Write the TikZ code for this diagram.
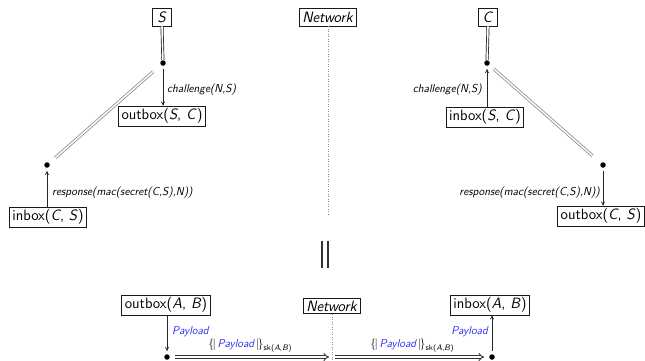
\documentclass[tikz,border=0pt]{standalone}
\usepackage{fontspec}
\usetikzlibrary{arrows.meta}
\definecolor{pay}{RGB}{50,50,245}
\tikzset{
  every node/.style={font=\sffamily},
  box/.style={draw=black!90, line width=0.8pt, inner xsep=3pt, inner ysep=2.5pt, font=\sffamily\fontsize{15}{17}\selectfont},
  sbox/.style={box, minimum width=19pt, minimum height=18pt, inner sep=0pt},
  dotn/.style={circle, fill=black, inner sep=0pt, minimum size=5.5pt},
  lbl/.style={font=\sffamily\itshape\fontsize{11.5}{13}\selectfont, inner sep=1pt},
  arr/.style={draw=black!85, line width=0.7pt, -{To[length=4pt,width=4pt]}},
  dbl/.style={draw=black!90, double=white, double distance=1.6pt, line width=0.7pt},
  gdbl/.style={draw=black!45, double=white, double distance=1.5pt, line width=0.8pt},
  bdbl/.style={draw=black!80, double=white, double distance=1.8pt, line width=0.9pt, -{Implies}},
  net/.style={draw=black!45, dotted, line width=0.5pt},
}
\begin{document}
\begin{tikzpicture}[x=1pt,y=-1pt]
\useasboundingbox (0,0) rectangle (645,360);
% top part
\node[sbox] (S) at (162,17) {\textit{S}};
\node[box, minimum height=18pt, inner ysep=0pt] (N1) at (328,17) {\textit{Network}};
\node[sbox] (C) at (488,17) {\textit{C}};
\node[dotn] (sd) at (163,63) {};
\node[dotn] (ld) at (47,165) {};
\node[dotn] (cd) at (487,63) {};
\node[dotn] (rd) at (603,165) {};
\node[box] (outSC) at (162,116) {outbox(\textit{S}, \textit{C})};
\node[box] (inCS) at (48,217) {inbox(\textit{C}, \textit{S})};
\node[box] (inSC) at (485,117) {inbox(\textit{S}, \textit{C})};
\node[box] (outCS) at (601,216) {outbox(\textit{C}, \textit{S})};
\coordinate (n1end) at (328,214);
\draw[net] (N1.south) -- (n1end);

\draw[dbl] (S.south) -- (sd);
\draw[dbl] (C.south) -- (cd);
\draw[gdbl, shorten <=10pt, shorten >=8pt] (sd) -- (ld);
\draw[gdbl, shorten <=6pt, shorten >=11pt] (cd) -- (rd);

\draw[arr, shorten <=3pt] (sd) -- (sd |- outSC.north);
\draw[arr, shorten >=3pt] (inCS.north -| ld) -- (ld);
\draw[arr, shorten >=3pt] (inSC.north -| cd) -- (cd);
\draw[arr, shorten <=3pt] (rd) -- (rd |- outCS.north);

\node[lbl, anchor=west] (l1) at (166,90) {challenge(N,S)};
\node[lbl, anchor=west] (l2) at (51,193) {response(mac(secret(C,S),N))};
\node[lbl, anchor=east] (l3) at (483,90) {challenge(N,S)};
\node[lbl, anchor=east] (l4) at (601,193) {response(mac(secret(C,S),N))};

% equality
\coordinate (e1a) at (322,241); \coordinate (e1b) at (322,268);
\coordinate (e2a) at (328,241); \coordinate (e2b) at (328,268);
\draw[black!80, line width=1.5pt] (e1a) -- (e1b);
\draw[black!80, line width=1.5pt] (e2a) -- (e2b);

% bottom part
\node[box] (outAB) at (166,305) {outbox(\textit{A}, \textit{B})};
\node[box] (N2) at (332,306) {\textit{Network}};
\node[box] (inAB) at (490,305) {inbox(\textit{A}, \textit{B})};
\node[dotn] (ad) at (167,357) {};
\node[dotn] (bd) at (492,357) {};
\coordinate (n2end) at (332,362);
\draw[net] (N2.south) -- (n2end);
\coordinate (m1) at (329,357);
\coordinate (m2) at (335,357);
\draw[arr, shorten >=3pt] (outAB.south -| ad) -- (ad);
\draw[arr, shorten <=3pt] (bd) -- (bd |- inAB.south);
\draw[bdbl, shorten <=5pt] (ad) -- (m1);
\draw[bdbl, shorten >=5pt] (m2) -- (bd);
\node[lbl, anchor=west, text=pay] (p1) at (171,332) {Payload};
\node[lbl, anchor=east, text=pay] (p2) at (489,332) {Payload};
\node[font=\sffamily\fontsize{11.5}{13}\selectfont, inner sep=1pt] (e1) at (250,346) {\{\kern-1.5pt|\,\textcolor{pay}{\itshape Payload}\,|\kern-1.5pt\}\raisebox{-3pt}{\fontsize{8}{9}\selectfont sk(\textit{A},\textit{B})}};
\node[font=\sffamily\fontsize{11.5}{13}\selectfont, inner sep=1pt] (e2) at (412,346) {\{\kern-1.5pt|\,\textcolor{pay}{\itshape Payload}\,|\kern-1.5pt\}\raisebox{-3pt}{\fontsize{8}{9}\selectfont sk(\textit{A},\textit{B})}};
\end{tikzpicture}
\end{document}
